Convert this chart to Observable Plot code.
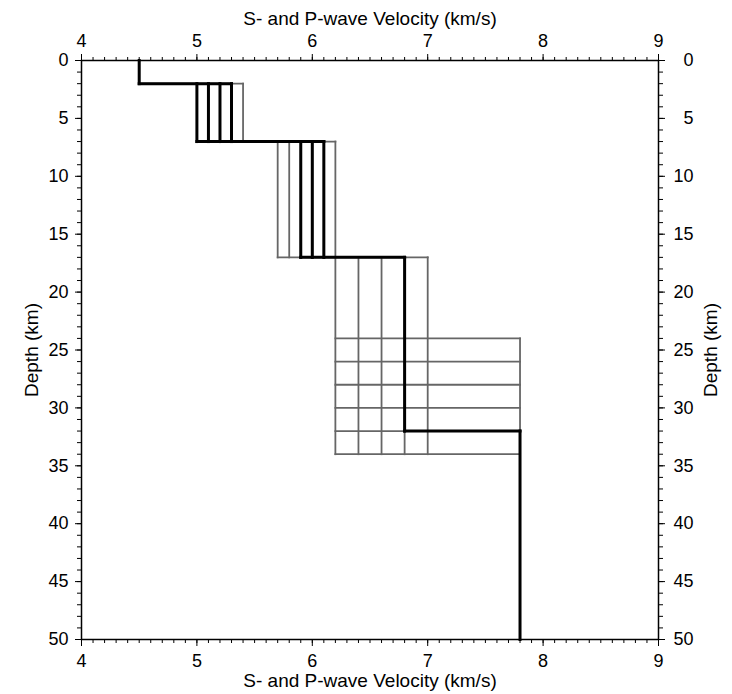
<!DOCTYPE html>
<html>
<head>
<meta charset="utf-8">
<script src="https://cdn.jsdelivr.net/npm/d3@7"></script>
<script src="https://cdn.jsdelivr.net/npm/@observablehq/plot@0.6"></script>
<style>
  html, body { margin: 0; padding: 0; background: #fff; }
</style>
</head>
<body>
<div id="chart"></div>
<script>
// ---- data ----
const xTitle = "S- and P-wave Velocity (km/s)";
const yTitle = "Depth (km)";
const xMajorTicks = [4, 5, 6, 7, 8, 9];
const yMajorTicks = [0, 5, 10, 15, 20, 25, 30, 35, 40, 45, 50];

// layer boundaries (km) and velocity (km/s)
const layerBoundaries = [2, 7, 17];
const bottomDepth = 50;
const layer1Velocity = 4.5;
const halfSpaceVelocity = 7.8;

// all tested models (grey)
const layer2VelAll = [5.0, 5.1, 5.2, 5.3, 5.4];
const layer3VelAll = [5.7, 5.8, 5.9, 6.0, 6.1, 6.2];
const layer4VelAll = [6.2, 6.4, 6.6, 6.8, 7.0];
const mohoDepthAll = [24, 26, 28, 30, 32, 34];

// best models (black)
const layer2VelBest = [5.0, 5.1, 5.2, 5.3];
const layer3VelBest = [5.9, 6.0, 6.1];
const layer4VelBest = [6.8];
const mohoDepthBest = [32];

// ---- build step-profile segments from the sets ----
function segments(v2, v3, v4, moho) {
  const [b1, b2, b3] = layerBoundaries;
  const s = [];
  s.push({x1: layer1Velocity, y1: 0, x2: layer1Velocity, y2: b1});
  s.push({x1: layer1Velocity, y1: b1, x2: d3.max(v2), y2: b1});
  for (const v of v2) s.push({x1: v, y1: b1, x2: v, y2: b2});
  s.push({x1: d3.min(v2), y1: b2, x2: d3.max(v3), y2: b2});
  for (const v of v3) s.push({x1: v, y1: b2, x2: v, y2: b3});
  s.push({x1: d3.min(v3), y1: b3, x2: d3.max(v4), y2: b3});
  for (const v of v4) s.push({x1: v, y1: b3, x2: v, y2: d3.max(moho)});
  for (const m of moho) s.push({x1: d3.min(v4), y1: m, x2: halfSpaceVelocity, y2: m});
  s.push({x1: halfSpaceVelocity, y1: d3.min(moho), x2: halfSpaceVelocity, y2: bottomDepth});
  return s;
}
const greySegs = segments(layer2VelAll, layer3VelAll, layer4VelAll, mohoDepthAll);
const blackSegs = segments(layer2VelBest, layer3VelBest, layer4VelBest, mohoDepthBest);

const xMinor = d3.range(40, 91).map(d => d / 10);
const yMinor = d3.range(0, 51);

const font = "'Liberation Sans', Arial, Helvetica, sans-serif";
const fmt = d3.format("d");

const chart = Plot.plot({
  width: 732,
  height: 694,
  marginLeft: 81,
  marginRight: 74,
  marginTop: 60,
  marginBottom: 55,
  style: { fontFamily: font, fontSize: "18px", background: "#fff", color: "#000" },
  x: { domain: [4, 9] },
  y: { domain: [0, 50], reverse: true },
  marks: [
    Plot.link(greySegs, {x1: "x1", y1: "y1", x2: "x2", y2: "y2", stroke: "#666", strokeWidth: 1.8, strokeLinecap: "square"}),
    Plot.link(blackSegs, {x1: "x1", y1: "y1", x2: "x2", y2: "y2", stroke: "#000", strokeWidth: 3, strokeLinecap: "square"}),
    // minor ticks
    Plot.axisX({anchor: "top", ticks: xMinor, tickSize: 4, tickFormat: () => "", label: null}),
    Plot.axisX({anchor: "bottom", ticks: xMinor, tickSize: 4, tickFormat: () => "", label: null}),
    Plot.axisY({anchor: "left", ticks: yMinor, tickSize: 4, tickFormat: () => "", label: null}),
    Plot.axisY({anchor: "right", ticks: yMinor, tickSize: 4, tickFormat: () => "", label: null}),
    // major ticks with labels
    Plot.axisX({anchor: "top", ticks: xMajorTicks, tickSize: 7, tickPadding: 7, tickFormat: fmt, fontSize: 18, label: null}),
    Plot.axisX({anchor: "bottom", ticks: xMajorTicks, tickSize: 7, tickPadding: 8, tickFormat: fmt, fontSize: 18, label: null}),
    Plot.axisY({anchor: "left", ticks: yMajorTicks, tickSize: 6, tickPadding: 7, tickFormat: fmt, fontSize: 18, label: null}),
    Plot.axisY({anchor: "right", ticks: yMajorTicks, tickSize: 6, tickPadding: 29, textAnchor: "end", tickFormat: fmt, fontSize: 18, label: null}),
    Plot.frame({stroke: "#000", strokeWidth: 1.5}),
    // titles
    Plot.text([xTitle], {frameAnchor: "top", dy: -42, lineAnchor: "middle", textAnchor: "middle", fontSize: 19, fill: "#000"}),
    Plot.text([xTitle], {frameAnchor: "bottom", dy: 41, lineAnchor: "middle", textAnchor: "middle", fontSize: 19, fill: "#000"}),
    Plot.text([yTitle], {frameAnchor: "left", dx: -50, rotate: -90, lineAnchor: "middle", textAnchor: "middle", fontSize: 19, fill: "#000"}),
    Plot.text([yTitle], {frameAnchor: "right", dx: 52, rotate: -90, lineAnchor: "middle", textAnchor: "middle", fontSize: 19, fill: "#000"})
  ]
});
document.getElementById("chart").appendChild(chart);
</script>
</body>
</html>
